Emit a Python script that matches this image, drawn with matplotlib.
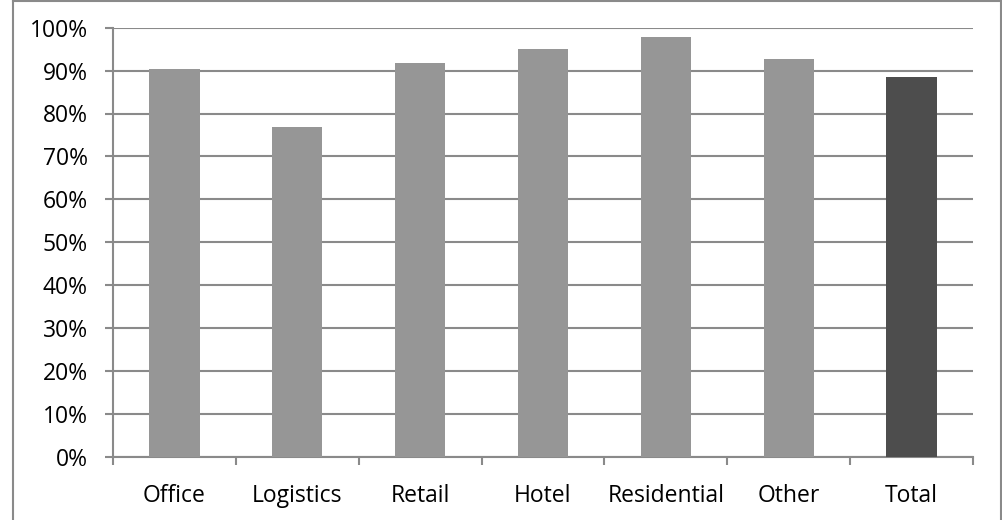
import matplotlib
matplotlib.use("Agg")
import matplotlib.pyplot as plt
from matplotlib.lines import Line2D
from matplotlib.ticker import PercentFormatter, FixedLocator

# data
categories = ["Office", "Logistics", "Retail", "Hotel", "Residential", "Other", "Total"]
occupancy = [0.904, 0.769, 0.918, 0.950, 0.978, 0.928, 0.885]
bar_colors = ["#969696"] * 6 + ["#4d4d4d"]

plt.rcParams['font.family'] = ['Open Sans', 'DejaVu Sans']
grey = "#8a8a8a"

fig = plt.figure(figsize=(10.03, 5.2), dpi=100)
ax = fig.add_axes([113 / 1003, 63.3 / 520, 860 / 1003, 429 / 520])

x = list(range(len(categories)))
ax.bar(x, occupancy, width=0.41, color=bar_colors, zorder=3)

ax.set_xlim(-0.5, len(categories) - 0.5)
ax.set_ylim(0, 1)
ax.set_yticks([i / 10 for i in range(11)])
ax.yaxis.set_major_formatter(PercentFormatter(1.0, decimals=0))
ax.grid(axis="y", color=grey, linewidth=1.5, zorder=1)

# category labels at centres, tick marks at the boundaries
ax.set_xticks(x)
ax.set_xticklabels(categories)
ax.xaxis.set_minor_locator(FixedLocator([i - 0.5 for i in range(len(categories) + 1)]))
ax.tick_params(axis="x", which="major", length=0, pad=20, labelsize=16.5)
ax.tick_params(axis="x", which="minor", length=6, width=1.5, color=grey, direction="out")
ax.tick_params(axis="y", length=6, width=1.5, color=grey, pad=12, labelsize=16.5)

for side in ["top", "right"]:
    ax.spines[side].set_visible(False)
for side in ["left", "bottom"]:
    ax.spines[side].set_color(grey)
    ax.spines[side].set_linewidth(1.5)
    ax.spines[side].set_zorder(2)

# outer chart frame
fx0, fx1, fy1 = 13 / 1003, 1001.5 / 1003, 519.5 / 520
for xs, ys in [([fx0, fx0], [0, fy1]), ([fx0, fx1], [fy1, fy1]), ([fx1, fx1], [0, fy1])]:
    fig.add_artist(Line2D(xs, ys, transform=fig.transFigure, color=grey, linewidth=1.5))

fig.savefig("out.png", dpi=100)
